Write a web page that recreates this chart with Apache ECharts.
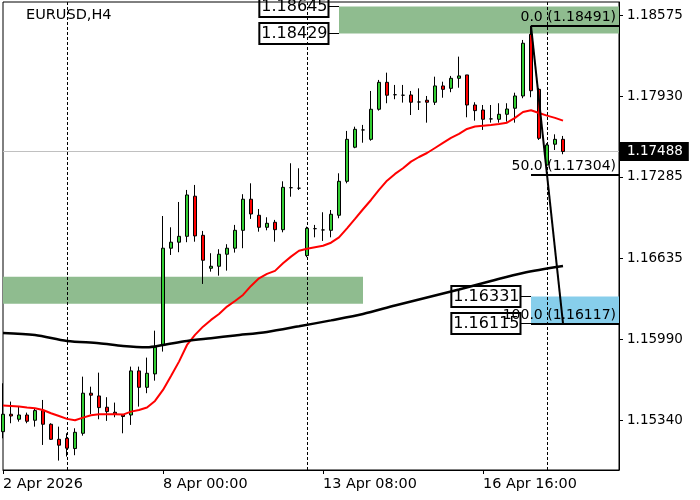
<!DOCTYPE html>
<html><head><meta charset="utf-8">
<script src="https://cdn.jsdelivr.net/npm/echarts@6/dist/echarts.min.js"></script>
<style>html,body{margin:0;padding:0;background:#fff}#c{width:700px;height:500px}</style>
</head><body><div id="c"></div>
<script>
const chartTitle = 'EURUSD,H4';
// H4 bars, index 0 = 2 Apr 2026 00:00
const opens = [1.15252,1.15391,1.15351,1.15385,1.15343,1.15420,1.15311,1.15191,1.15199,1.15117,
1.15239,1.15559,1.15537,1.15447,1.15407,1.15385,1.15385,1.15737,1.15606,1.15713,
1.15944,1.16716,1.16764,1.16811,1.17131,1.16819,1.16556,1.16572,1.16668,1.16716,
1.16859,1.17107,1.16979,1.16883,1.16923,1.16864,1.17199,1.17195,1.16657,1.16872,
1.16862,1.16859,1.16979,1.17250,1.17522,1.17660,1.17585,1.17825,1.18040,1.17941,
1.17937,1.17939,1.17883,1.17897,1.17881,1.18011,1.17992,1.18072,1.18099,1.17859,
1.17819,1.17748,1.17745,1.17785,1.17833,1.17931,1.18423,1.17984,1.17380,1.17546,
1.17585];
const closes = [1.15391,1.15377,1.15385,1.15335,1.15420,1.15311,1.15191,1.15144,1.15120,1.15247,
1.15559,1.15543,1.15444,1.15412,1.15391,1.15373,1.15737,1.15606,1.15718,1.15926,
1.16716,1.16764,1.16811,1.17141,1.16814,1.16620,1.16572,1.16668,1.16716,1.16859,
1.17107,1.16989,1.16883,1.16915,1.16864,1.17202,1.17199,1.17195,1.16875,1.16872,
1.16862,1.16987,1.17250,1.17585,1.17665,1.17660,1.17825,1.18040,1.17937,1.17941,
1.17937,1.17881,1.17883,1.17881,1.18011,1.17984,1.18072,1.18091,1.17859,1.17814,
1.17745,1.17748,1.17785,1.17827,1.17931,1.18352,1.17973,1.17593,1.17540,1.17585,
1.17488];
const lows = [1.15199,1.15319,1.15332,1.15319,1.15292,1.15146,1.15186,1.15021,1.15053,1.15064,
1.15220,1.15393,1.15351,1.15338,1.15367,1.15239,1.15306,1.15452,1.15559,1.15659,
1.15891,1.16662,1.16684,1.16764,1.16768,1.16431,1.16529,1.16497,1.16537,1.16681,
1.16716,1.16950,1.16848,1.16859,1.16768,1.16843,1.17127,1.17181,1.16644,1.16803,
1.16774,1.16803,1.16955,1.17234,1.17514,1.17558,1.17574,1.17814,1.17873,1.17905,
1.17878,1.17779,1.17819,1.17718,1.17859,1.17917,1.17961,1.17997,1.17761,1.17734,
1.17660,1.17718,1.17718,1.17726,1.17718,1.17913,1.17921,1.17580,1.17317,1.17500,
1.17466];
const highs = [1.15638,1.15492,1.15452,1.15404,1.15439,1.15505,1.15319,1.15292,1.15239,1.15279,
1.15691,1.15611,1.15723,1.15527,1.15484,1.15393,1.15771,1.15771,1.15843,1.16058,
1.16973,1.16883,1.17085,1.17181,1.17221,1.16854,1.16676,1.16708,1.16748,1.16902,
1.17147,1.17234,1.17029,1.16963,1.16942,1.17250,1.17394,1.17354,1.16888,1.16902,
1.17003,1.17021,1.17314,1.17652,1.17686,1.17700,1.17971,1.18059,1.18117,1.18019,
1.18019,1.17971,1.17992,1.17931,1.18085,1.18045,1.18091,1.18245,1.18099,1.17881,
1.17859,1.17859,1.17873,1.17873,1.17957,1.18378,1.18491,1.17995,1.17554,1.17625,
1.17612];
// fast moving average (red), one value per bar
const maFast = [1.15460,1.15457,1.15452,1.15445,1.15439,1.15425,1.15399,1.15377,1.15354,1.15343,
1.15364,1.15383,1.15391,1.15391,1.15391,1.15388,1.15412,1.15425,1.15445,1.15497,
1.15585,1.15697,1.15811,1.15944,1.16024,1.16090,1.16144,1.16191,1.16250,1.16295,
1.16343,1.16415,1.16476,1.16511,1.16535,1.16596,1.16649,1.16696,1.16712,1.16724,
1.16736,1.16760,1.16803,1.16875,1.16950,1.17027,1.17101,1.17181,1.17255,1.17309,
1.17354,1.17407,1.17444,1.17476,1.17516,1.17556,1.17596,1.17628,1.17668,1.17688,
1.17694,1.17700,1.17708,1.17718,1.17756,1.17803,1.17817,1.17795,1.17774,1.17756,
1.17734];
// slow moving average (black), read at these bars
const maSlowBars = [0,4,8,12,15,18,20,23,26,29,33,37,41,45,49,53,57,61,65,70];
const maSlowValues = [1.16040,1.16024,1.15976,1.15958,1.15936,1.15926,1.15944,1.15976,1.15998,1.16020,
1.16048,1.16093,1.16140,1.16191,1.16259,1.16323,1.16387,1.16455,1.16519,1.16574];

const yRange = [1.14946, 1.18681];
const yTicks = [1.18575, 1.17930, 1.17285, 1.16635, 1.15990, 1.15340];
const xRange = [0, 77];
const xTickBars = [0, 20, 40, 60];
const xTickLabels = ['2 Apr 2026', '8 Apr 00:00', '13 Apr 08:00', '16 Apr 16:00'];
const weekSeparatorBars = [8, 38, 68];
const lastPrice = 1.17488;
// zones: [fromBar, toBar, top, bottom]
const supplyZone = [42, 77, 1.18645, 1.18429];
const demandZone = [0, 45, 1.16488, 1.16272];
const targetZone = [66, 77, 1.16331, 1.16115];
// fibonacci: start bar/price, end bar/price, levels
const fibStart = [66, 1.18491];
const fibEnd = [70, 1.16117];
const fibLevels = [0.0, 50.0, 100.0];
const fibPrices = [1.18491, 1.17304, 1.16117];

const FONT = 'DejaVu Sans';
const chart = echarts.init(document.getElementById('c'));
const candleData = opens.map((o, i) => [i, o, closes[i], lows[i], highs[i]]);
const fastData = maFast.map((v, i) => [i, v]);
const slowData = maSlowBars.map((b, i) => [b, maSlowValues[i]]);

const zoneArea = (z, color) => [{coord: [z[0], z[2]], itemStyle: {color: color}}, {coord: [z[1], z[3]]}];
const boxLabel = {show: true, position: 'left', distance: 10, formatter: p => p.value.toFixed(5),
  fontFamily: FONT, fontSize: 16, color: '#000', backgroundColor: 'transparent', borderColor: '#000',
  borderWidth: 1, padding: [2, 1, 1, 2], lineHeight: 18};
const boxPoint = (bar, price) => ({coord: [bar, price], value: price});
const connector = (bar, price) => [{coord: [bar - 1.25, price], lineStyle: {color: '#000', width: 1, type: 'solid'}, label: {show: false}}, {coord: [bar, price]}];

const option = {
  animation: false,
  backgroundColor: '#fff',
  title: {text: chartTitle, left: 26, top: 8, padding: 0,
    textStyle: {fontFamily: FONT, fontSize: 14.5, fontWeight: 'normal', color: '#000'}},
  grid: {left: 3, top: 2, width: 616, height: 468, show: true, borderColor: '#000', borderWidth: 1,
    backgroundColor: '#fff', containLabel: false, outerBoundsMode: 'none'},
  xAxis: {type: 'value', min: xRange[0], max: xRange[1],
    axisLine: {show: true, onZero: false, lineStyle: {color: '#000'}},
    axisTick: {show: true, customValues: xTickBars, length: 4, lineStyle: {color: '#000'}},
    axisLabel: {show: true, customValues: xTickBars, formatter: v => xTickLabels[xTickBars.indexOf(v)],
      align: 'left', margin: 7, fontFamily: FONT, fontSize: 14.4, color: '#000'},
    splitLine: {show: false}},
  yAxis: {type: 'value', position: 'right', min: yRange[0], max: yRange[1],
    axisLine: {show: true, onZero: false, lineStyle: {color: '#000'}},
    axisTick: {show: true, customValues: yTicks, length: 4, lineStyle: {color: '#000'}},
    axisLabel: {show: true, customValues: yTicks, formatter: v => v.toFixed(5), margin: 8,
      fontFamily: FONT, fontSize: 13.5, color: '#000'},
    splitLine: {show: false}},
  series: [
    {type: 'candlestick', data: candleData, encode: {x: 0, y: [1, 2, 3, 4]}, barWidth: 4, z: 3,
      itemStyle: {color: '#32CD32', color0: '#FF0000', borderColor: '#000', borderColor0: '#000',
        borderColorDoji: '#000', borderWidth: 1},
      markArea: {silent: true, z: 1, data: [
        zoneArea(supplyZone, '#8FBC8F'), zoneArea(demandZone, '#8FBC8F'), zoneArea(targetZone, '#87CEEB')
      ]},
      markLine: {silent: true, symbol: ['none', 'none'], z: 2, data:
        weekSeparatorBars.map(b => ({xAxis: b, label: {show: false},
          lineStyle: {color: '#000', width: 1, type: [3, 2]}}))
      },
      markPoint: {silent: true, symbol: 'circle', symbolSize: 1, itemStyle: {color: 'rgba(0,0,0,0)'}, z: 3,
        label: boxLabel, data: [
          boxPoint(supplyZone[0], supplyZone[2]), boxPoint(supplyZone[0], supplyZone[3]),
          boxPoint(targetZone[0], targetZone[2]), boxPoint(targetZone[0], targetZone[3])
        ]}
    },
    {type: 'line', data: fastData, symbol: 'none', z: 4, lineStyle: {color: '#FF0000', width: 2},
      markLine: {silent: true, symbol: ['none', 'none'], z: 2, data: [
        [{coord: [xRange[0], lastPrice], lineStyle: {color: '#C0C0C0', width: 1, type: 'solid'},
          label: {show: true, position: 'end', distance: 0, formatter: () => lastPrice.toFixed(5),
            fontFamily: FONT, fontSize: 13.5, color: '#fff', backgroundColor: '#000',
            padding: [2, 6, 2, 8], lineHeight: 15}},
         {coord: [xRange[1], lastPrice]}]
      ]}
    },
    {type: 'line', data: slowData, symbol: 'none', smooth: 0.3, z: 4, lineStyle: {color: '#000', width: 2.5}},
    {type: 'line', data: [fibStart, fibEnd], symbol: 'none', z: 8, lineStyle: {color: '#000', width: 2},
      markLine: {silent: true, symbol: ['none', 'none'], z: 8, data: [
        ...fibPrices.map((p, i) => [
          {coord: [fibStart[0], p], lineStyle: {color: '#000', width: 2, type: 'solid'},
            label: {show: true, position: 'insideEndTop', distance: [3, 1],
              formatter: fibLevels[i].toFixed(1) + ' (' + p.toFixed(5) + ')',
              fontFamily: FONT, fontSize: 14, color: '#000'}},
          {coord: [xRange[1], p]}]),
        connector(supplyZone[0], supplyZone[2]), connector(supplyZone[0], supplyZone[3]),
        connector(targetZone[0], targetZone[2]), connector(targetZone[0], targetZone[3])
      ]}
    }
  ]
};
chart.setOption(option);
</script></body></html>
